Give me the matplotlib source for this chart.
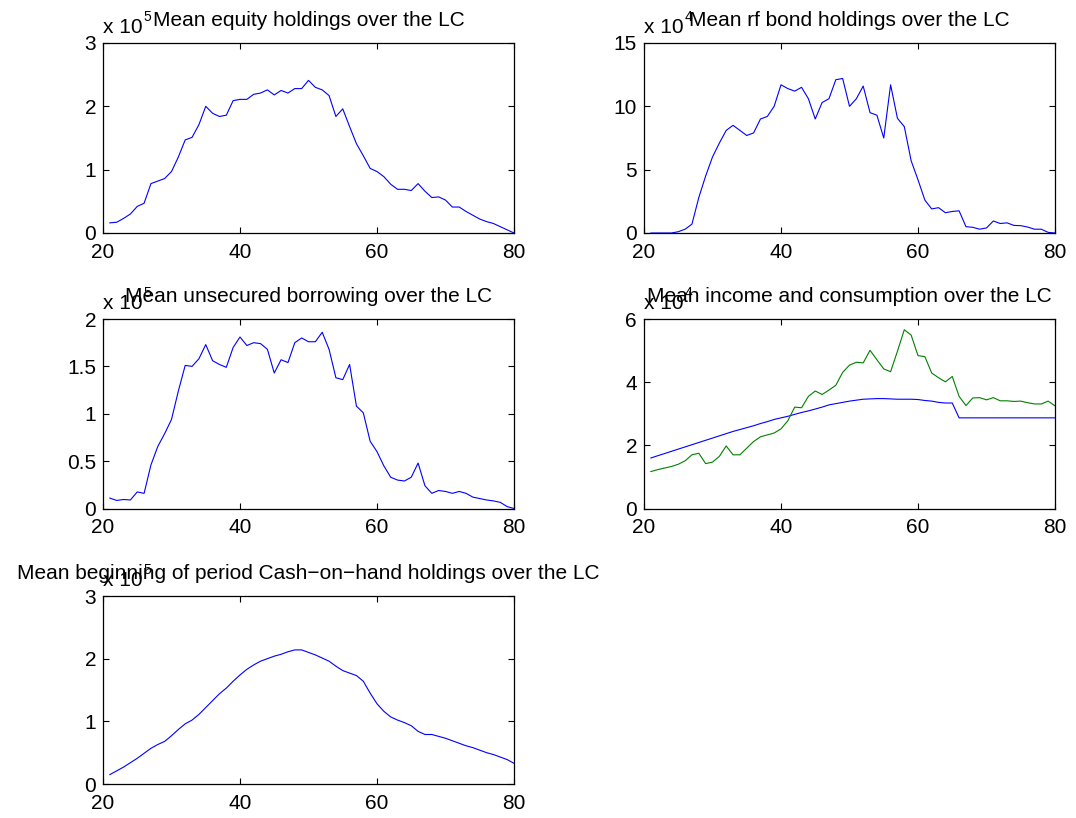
import numpy as np
import matplotlib
matplotlib.use("Agg")
import matplotlib.pyplot as plt

plt.rcParams['font.family'] = ['Liberation Sans', 'DejaVu Sans']
plt.rcParams['font.size'] = 15

# ages 21..80
age = np.arange(21, 81)

# mean equity holdings, units of 1e5
equity = [0.16, 0.17, 0.23, 0.30, 0.42, 0.47, 0.78, 0.82, 0.86, 0.97,
          1.20, 1.47, 1.51, 1.71, 2.00, 1.89, 1.84, 1.86, 2.09, 2.11,
          2.11, 2.19, 2.21, 2.26, 2.18, 2.25, 2.21, 2.28, 2.28, 2.41,
          2.30, 2.26, 2.17, 1.84, 1.96, 1.68, 1.41, 1.22, 1.02, 0.97,
          0.89, 0.77, 0.69, 0.69, 0.67, 0.78, 0.66, 0.56, 0.57, 0.52,
          0.41, 0.41, 0.34, 0.28, 0.22, 0.18, 0.15, 0.10, 0.05, 0.00]

# mean risk-free bond holdings, units of 1e4
bonds = [0.0, 0.0, 0.0, 0.0, 0.1, 0.3, 0.7, 2.8, 4.5, 6.0,
         7.1, 8.1, 8.5, 8.1, 7.7, 7.9, 9.0, 9.2, 10.0, 11.7,
         11.4, 11.2, 11.5, 10.6, 9.0, 10.3, 10.6, 12.1, 12.2, 10.0,
         10.6, 11.6, 9.5, 9.3, 7.5, 11.7, 9.05, 8.4, 5.7, 4.2,
         2.6, 1.9, 2.0, 1.6, 1.7, 1.75, 0.5, 0.45, 0.3, 0.4,
         0.95, 0.75, 0.8, 0.6, 0.58, 0.47, 0.3, 0.3, 0.05, 0.0]

# mean unsecured borrowing, units of 1e5
borrowing = [0.11, 0.085, 0.095, 0.09, 0.175, 0.16, 0.46, 0.655, 0.79, 0.94,
             1.24, 1.51, 1.50, 1.58, 1.73, 1.56, 1.52, 1.49, 1.70, 1.81,
             1.72, 1.75, 1.74, 1.68, 1.43, 1.57, 1.54, 1.75, 1.80, 1.76,
             1.76, 1.86, 1.68, 1.38, 1.36, 1.52, 1.08, 1.01, 0.71, 0.60,
             0.45, 0.33, 0.30, 0.29, 0.33, 0.48, 0.24, 0.16, 0.19, 0.18,
             0.16, 0.18, 0.16, 0.12, 0.105, 0.09, 0.08, 0.065, 0.02, 0.0]

# mean income and consumption, units of 1e4
income = [1.60, 1.67, 1.74, 1.81, 1.88, 1.95, 2.02, 2.09, 2.16, 2.23,
          2.30, 2.37, 2.44, 2.50, 2.56, 2.62, 2.69, 2.75, 2.82, 2.87,
          2.92, 2.98, 3.04, 3.09, 3.15, 3.21, 3.28, 3.32, 3.36, 3.40,
          3.43, 3.46, 3.47, 3.48, 3.48, 3.47, 3.46, 3.46, 3.46, 3.45,
          3.42, 3.40, 3.36, 3.34, 3.34, 2.87, 2.87, 2.87, 2.87, 2.87,
          2.87, 2.87, 2.87, 2.87, 2.87, 2.87, 2.87, 2.87, 2.87, 2.87]
consumption = [1.17, 1.23, 1.28, 1.33, 1.40, 1.51, 1.70, 1.75, 1.42, 1.47,
               1.65, 1.98, 1.70, 1.70, 1.91, 2.12, 2.27, 2.33, 2.39, 2.52,
               2.78, 3.21, 3.19, 3.55, 3.72, 3.61, 3.75, 3.90, 4.31, 4.54,
               4.63, 4.61, 5.01, 4.71, 4.42, 4.33, 4.98, 5.66, 5.49, 4.84,
               4.81, 4.29, 4.14, 4.01, 4.18, 3.55, 3.26, 3.50, 3.51, 3.44,
               3.51, 3.41, 3.41, 3.39, 3.40, 3.35, 3.31, 3.31, 3.40, 3.25]

# mean beginning-of-period cash on hand, units of 1e5
cash = [0.15, 0.21, 0.27, 0.34, 0.41, 0.49, 0.57, 0.63, 0.68, 0.77,
        0.87, 0.96, 1.02, 1.11, 1.22, 1.33, 1.44, 1.53, 1.64, 1.74,
        1.83, 1.90, 1.96, 2.00, 2.04, 2.07, 2.11, 2.14, 2.14, 2.10,
        2.06, 2.01, 1.96, 1.88, 1.81, 1.77, 1.73, 1.64, 1.45, 1.28,
        1.16, 1.07, 1.02, 0.98, 0.93, 0.84, 0.79, 0.79, 0.76, 0.73,
        0.69, 0.65, 0.61, 0.58, 0.54, 0.50, 0.47, 0.43, 0.39, 0.33]

BLUE = (0, 0, 1)
GREEN = (0, 0.5, 0)

fig = plt.figure(figsize=(10.76, 8.18), dpi=100)

W, H = 1076.0, 818.0
cols = [103, 644]
rows = [(43, 233), (319, 508.5), (596, 784)]
ax_w = 411


def make_axes(col, row):
    left = cols[col]
    top, bottom = rows[row]
    return fig.add_axes([left / W, 1 - bottom / H, ax_w / W, (bottom - top) / H])


def style_axes(ax, yticks, exponent, title):
    ax.set_xlim(20, 80)
    ax.set_xticks([20, 40, 60, 80])
    ax.set_ylim(yticks[0], yticks[-1])
    ax.set_yticks(yticks)
    ax.set_yticklabels([f"{t:g}" for t in yticks])
    ax.tick_params(direction='in', length=4, width=0.8, top=True, right=True,
                   labelsize=15, colors='black')
    ax.tick_params(axis='x', pad=7)
    ax.tick_params(axis='y', pad=5)
    for s in ax.spines.values():
        s.set_linewidth(0.9)
    ax.set_title(title, fontsize=15, pad=12)
    # "x 10^n" multiplier in the top-left corner
    base = ax.text(0, 1.053, 'x 10', transform=ax.transAxes,
                   ha='left', va='baseline', fontsize=15)
    ax.annotate(str(exponent), xy=(1, 0), xycoords=base,
                xytext=(0.5, 11.5), textcoords='offset points',
                ha='left', va='baseline', fontsize=10)


ax1 = make_axes(0, 0)
ax1.plot(age, equity, color=BLUE, lw=0.8)
style_axes(ax1, [0, 1, 2, 3], 5, "Mean equity holdings over the LC")

ax2 = make_axes(1, 0)
ax2.plot(age, bonds, color=BLUE, lw=0.8)
style_axes(ax2, [0, 5, 10, 15], 4, "Mean rf bond holdings over the LC")

ax3 = make_axes(0, 1)
ax3.plot(age, borrowing, color=BLUE, lw=0.8)
style_axes(ax3, [0, 0.5, 1, 1.5, 2], 5, "Mean unsecured borrowing over the LC")

ax4 = make_axes(1, 1)
ax4.plot(age, income, color=BLUE, lw=0.8)
ax4.plot(age, consumption, color=GREEN, lw=0.8)
style_axes(ax4, [0, 2, 4, 6], 4, "Mean income and consumption over the LC")

ax5 = make_axes(0, 2)
ax5.plot(age, cash, color=BLUE, lw=0.8)
style_axes(ax5, [0, 1, 2, 3], 5,
           "Mean beginning of period Cash\u2212on\u2212hand holdings over the LC")

fig.savefig("out.png", dpi=100)
